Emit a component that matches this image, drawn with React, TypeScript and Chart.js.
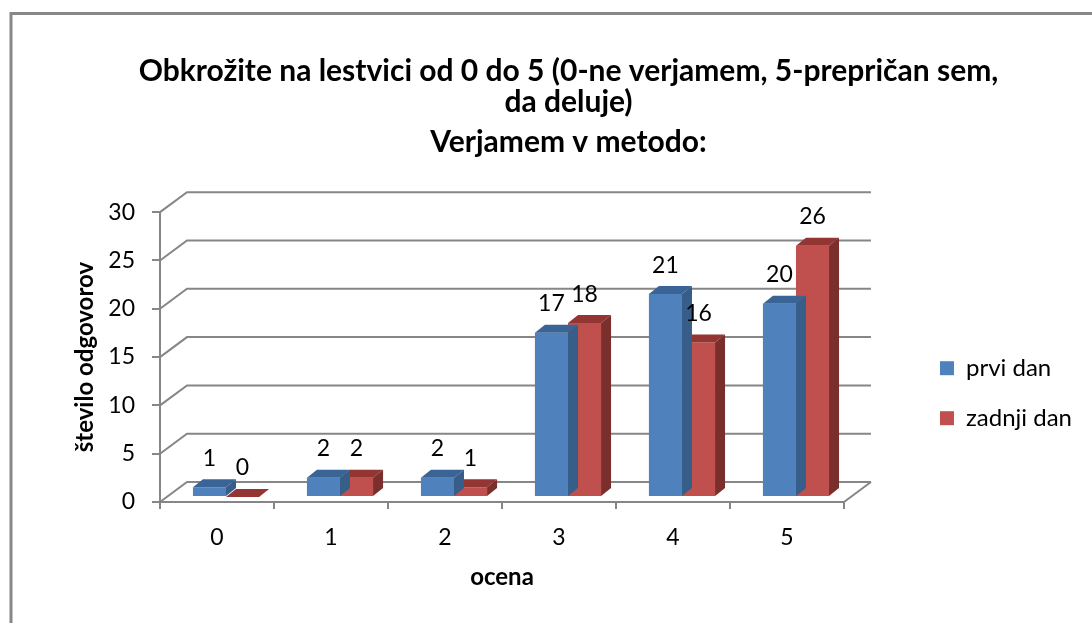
import React, { useEffect, useRef } from "react";
import { Chart, registerables } from "chart.js";

Chart.register(...registerables);

const categories = ["0", "1", "2", "3", "4", "5"];
const prviDan = [1, 2, 2, 17, 21, 20];
const zadnjiDan = [0, 2, 1, 18, 16, 26];
const seriesNames = ["prvi dan", "zadnji dan"];
const yTicks = [0, 5, 10, 15, 20, 25, 30];
const titleLines = [
  "Obkrožite na lestvici od 0 do 5 (0-ne verjamem, 5-prepričan sem,",
  "da deluje)",
];
const subtitleText = "Verjamem v metodo:";
const xTitle = "ocena";
const yTitle = "število odgovorov";

const FONT = "Lato, 'Open Sans', sans-serif";
const frontColors = ["#4F81BD", "#C0504D"];
const topColors = ["#3A6496", "#933533"];
const sideColors = ["#375D89", "#7B2F2D"];
const GRID = "#868686";

const WALL_DX = 27;
const WALL_DY = -20;
const BAR_DX = 9;
const BAR_DY = -5;
const DEPTH_DX = 10;
const DEPTH_DY = -8;
const LABEL_GAP = 29;

const threeD = {
  id: "threeD",
  beforeDraw(chart: any) {
    const ctx = chart.ctx;
    ctx.save();
    ctx.strokeStyle = "#888888";
    ctx.lineWidth = 3;
    ctx.beginPath();
    ctx.moveTo(11, 700);
    ctx.lineTo(11, 13.5);
    ctx.lineTo(1200, 13.5);
    ctx.stroke();

    const ys = chart.scales.y;
    const l = chart.chartArea.left;
    const r = chart.chartArea.right;
    ctx.strokeStyle = GRID;
    ctx.lineWidth = 2;
    for (const v of yTicks) {
      const py = ys.getPixelForValue(v);
      ctx.beginPath();
      ctx.moveTo(l, py);
      ctx.lineTo(l + WALL_DX, py + WALL_DY);
      ctx.lineTo(r + WALL_DX, py + WALL_DY);
      ctx.stroke();
    }
    const p0 = ys.getPixelForValue(0);
    ctx.beginPath();
    ctx.moveTo(r, p0);
    ctx.lineTo(r + WALL_DX, p0 + WALL_DY);
    ctx.stroke();
    ctx.restore();
  },
  beforeDatasetsDraw(chart: any) {
    chart.ctx.save();
    chart.ctx.translate(BAR_DX, BAR_DY);
  },
  afterDatasetDraw(chart: any, args: any) {
    const ctx = chart.ctx;
    const i = args.index;
    args.meta.data.forEach((bar: any) => {
      const { x, y, base, width } = bar.getProps(["x", "y", "base", "width"], true);
      const x0 = x - width / 2;
      const x1 = x + width / 2;
      ctx.fillStyle = topColors[i];
      ctx.beginPath();
      ctx.moveTo(x0, y);
      ctx.lineTo(x1, y);
      ctx.lineTo(x1 + DEPTH_DX, y + DEPTH_DY);
      ctx.lineTo(x0 + DEPTH_DX, y + DEPTH_DY);
      ctx.closePath();
      ctx.fill();
      ctx.fillStyle = sideColors[i];
      ctx.beginPath();
      ctx.moveTo(x1, y);
      ctx.lineTo(x1 + DEPTH_DX, y + DEPTH_DY);
      ctx.lineTo(x1 + DEPTH_DX, base + DEPTH_DY);
      ctx.lineTo(x1, base);
      ctx.closePath();
      ctx.fill();
    });
  },
  afterDatasetsDraw(chart: any) {
    chart.ctx.restore();
  },
  afterDraw(chart: any) {
    const ctx = chart.ctx;
    ctx.save();
    ctx.font = `23px ${FONT}`;
    ctx.fillStyle = "#000";
    ctx.textAlign = "center";
    ctx.textBaseline = "middle";
    chart.data.datasets.forEach((ds: any, di: number) => {
      const meta = chart.getDatasetMeta(di);
      meta.data.forEach((bar: any, j: number) => {
        const { x, y } = bar.getProps(["x", "y"], true);
        ctx.fillText(String(ds.data[j]), x + BAR_DX, y + BAR_DY - LABEL_GAP);
      });
    });
    ctx.restore();
  },
};

export default function App() {
  const ref = useRef<HTMLCanvasElement>(null);
  useEffect(() => {
    if (!ref.current) return;
    const chart = new Chart(ref.current, {
      type: "bar",
      data: {
        labels: categories,
        datasets: [
          { label: seriesNames[0], data: prviDan, backgroundColor: frontColors[0], borderWidth: 0 },
          { label: seriesNames[1], data: zadnjiDan, backgroundColor: frontColors[1], borderWidth: 0 },
        ],
      },
      options: {
        responsive: false,
        animation: false,
        layout: { padding: { left: 55, right: 10, top: 0, bottom: 27 } },
        datasets: { bar: { categoryPercentage: 0.58, barPercentage: 1 } },
        plugins: {
          title: {
            display: true,
            text: titleLines,
            color: "#000",
            font: { family: FONT, size: 30, weight: "bold", lineHeight: 1.035 },
            padding: { top: 56, bottom: 0 },
          },
          subtitle: {
            display: true,
            text: subtitleText,
            color: "#000",
            font: { family: FONT, size: 30, weight: "bold", lineHeight: 1.035 },
            padding: { top: 9, bottom: 54 },
          },
          legend: {
            position: "right",
            labels: {
              boxWidth: 14,
              boxHeight: 14,
              color: "#000",
              font: { family: FONT, size: 24 },
              padding: 26,
            },
            title: { display: true, text: "", padding: { top: 0, bottom: 176 } },
          },
          tooltip: { enabled: false },
        },
        scales: {
          x: {
            grid: {
              display: true,
              drawOnChartArea: false,
              drawTicks: true,
              tickLength: 7,
              color: GRID,
              lineWidth: 2,
              offset: true,
            },
            border: { display: true, color: GRID, width: 2 },
            ticks: { color: "#000", font: { family: FONT, size: 23 }, padding: 15 },
            title: {
              display: true,
              text: xTitle,
              color: "#000",
              font: { family: FONT, size: 24, weight: "bold" },
              padding: { top: 10, bottom: 4 },
            },
            afterFit: (s: any) => {
              s.height = 94;
            },
          },
          y: {
            min: 0,
            max: 30,
            ticks: { stepSize: 5, color: "#000", font: { family: FONT, size: 23 }, padding: 17 },
            grid: { drawOnChartArea: false, drawTicks: true, tickLength: 8, color: GRID, lineWidth: 2 },
            border: { display: true, color: GRID, width: 2 },
            title: {
              display: true,
              text: yTitle,
              color: "#000",
              font: { family: FONT, size: 24, weight: "bold" },
              padding: { top: 16, bottom: 4 },
            },
            afterFit: (s: any) => {
              s.width = 105;
            },
          },
          y2: {
            position: "right",
            display: true,
            grid: { display: false },
            ticks: { display: false },
            border: { display: false },
            afterFit: (s: any) => {
              s.width = 70;
            },
          },
        },
      },
      plugins: [threeD],
    });
    return () => chart.destroy();
  }, []);
  return (
    <div style={{ position: "fixed", left: 0, top: 0, width: 1092, height: 623, background: "#fff" }}>
      <canvas ref={ref} width={1092} height={623} />
    </div>
  );
}
